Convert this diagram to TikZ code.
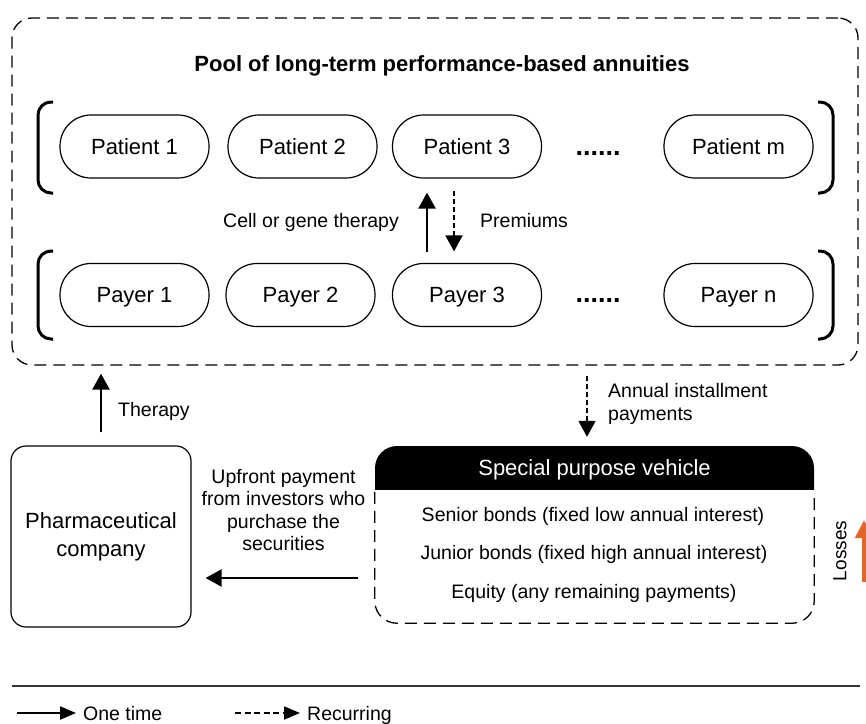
\documentclass[tikz,border=0pt]{standalone}
\usepackage{fontspec}
\setmainfont{Liberation Sans}
\usetikzlibrary{arrows.meta}
\definecolor{lossorange}{RGB}{226,101,44}
\begin{document}
\begin{tikzpicture}[x=1pt,y=-1pt,
  every node/.style={inner sep=0pt},
  big/.style={font=\fontsize{22}{26}\selectfont},
  small/.style={font=\fontsize{19.5}{23}\selectfont},
  pill/.style={draw, line width=1.2pt, rounded corners=31pt, minimum width=149pt,
    minimum height=63pt, big, text height=15.8pt, text depth=0pt},
  dotsnode/.style={font=\bfseries\fontsize{27}{30}\selectfont},
  poolbox/.style={draw, dash pattern=on 12pt off 7pt, line width=1.3pt,
    rounded corners=20pt, minimum width=846pt, minimum height=347pt},
  pharmabox/.style={draw, line width=1.2pt, rounded corners=15pt, minimum width=180pt,
    minimum height=181pt, align=center, font=\fontsize{22}{28}\selectfont},
  spvdash/.style={draw, dash pattern=on 12pt off 7pt, line width=1.3pt, rounded corners=22pt},
  onetime/.style={line width=2.5pt, -{Triangle[length=16pt,width=17pt]}},
  recurring/.style={line width=1.8pt, dash pattern=on 5pt off 3pt, -{Triangle[length=16pt,width=17pt]}},
  legone/.style={line width=2.2pt, -{Triangle[length=16pt,width=13pt]}},
  legrec/.style={line width=1.8pt, dash pattern=on 6pt off 3.5pt, -{Triangle[length=16pt,width=13pt]}},
  lossarrow/.style={line width=5pt, draw=lossorange, -{Triangle[length=18pt,width=17pt]}},
  bracket/.style={line width=3pt, rounded corners=13pt},
  legtext/.style={font=\fontsize{19.5}{23}\selectfont, text height=14pt, text depth=0pt}
]
\useasboundingbox (0,0) rectangle (866,723);
\clip (0,0) rectangle (866,723);

% pool
\node[poolbox] (pool) at (435,191.5) {};
\node[font=\bfseries\fontsize{22}{26}\selectfont, anchor=base] (title) at (442,71)
  {Pool of long-term performance-based annuities};

% brackets
\draw[bracket] (53,102) -- (38,102) -- (38,193) -- (53,193);
\draw[bracket] (818,102) -- (833,102) -- (833,193) -- (818,193);
\draw[bracket] (53,251) -- (38,251) -- (38,339) -- (53,339);
\draw[bracket] (818,251) -- (833,251) -- (833,339) -- (818,339);

% patients
\node[pill] (p1) at (134.5,146.5) {Patient 1};
\node[pill] (p2) at (302.5,146.5) {Patient 2};
\node[pill] (p3) at (467,146.5) {Patient 3};
\node[dotsnode, anchor=base] (pdots) at (598,155) {......};
\node[pill] (pm) at (738.5,146.5) {Patient m};

% payers
\node[pill] (y1) at (134.5,295) {Payer 1};
\node[pill] (y2) at (300.5,295) {Payer 2};
\node[pill] (y3) at (467,295) {Payer 3};
\node[dotsnode, anchor=base] (ydots) at (598,302) {......};
\node[pill] (yn) at (738.5,295) {Payer n};

% arrows between patient 3 and payer 3
\draw[onetime, shorten <=11pt, shorten >=14pt] ([xshift=-40pt]y3.north) -- ([xshift=-40pt]p3.south);
\draw[recurring, shorten <=12pt, shorten >=11.5pt] ([xshift=-13pt]p3.south) -- ([xshift=-13pt]y3.north);
\node[small, anchor=base east] (cgt) at (399,227) {Cell or gene therapy};
\node[small, anchor=base west] (prem) at (480,227) {Premiums};

% pharmaceutical company
\node[pharmabox] (pharma) at (101,536.5) {Pharmaceutical\\company};
\draw[onetime, shorten <=13pt, shorten >=8pt] (pharma.north) -- (pharma.north |- pool.south);
\node[small, anchor=base west] (ther) at (118,416) {Therapy};

% special purpose vehicle
\begin{scope}
  \clip (370,440) rectangle (820,489);
  \fill[rounded corners=22pt] (375,446) rectangle (814,530);
\end{scope}
\node[font=\fontsize{22}{26}\selectfont, text=white, minimum width=439pt, minimum height=43pt,
  text height=15.8pt, text depth=0pt] (spvhead) at (594.5,467.5) {Special purpose vehicle};
\node[minimum width=439pt, minimum height=131pt] (spvbody) at (594.5,557.5) {};
\draw[spvdash] (spvbody.north west) -- (spvbody.south west) -- (spvbody.south east) -- (spvbody.north east);
\node[small, anchor=base] (senior) at (593,521) {Senior bonds (fixed low annual interest)};
\node[small, anchor=base] (junior) at (594,559) {Junior bonds (fixed high annual interest)};
\node[small, anchor=base] (equity) at (594,598) {Equity (any remaining payments)};

% annual installment payments
\path (spvhead.north) ++(-7.5,0) coordinate (spvin);
\draw[recurring, shorten <=10pt, shorten >=9pt] (spvin |- pool.south) -- (spvin);
\node[small, align=left, anchor=north west] (annual) at (608,383) {Annual installment\\payments};

% upfront payment
\path ([yshift=-20.5pt]spvbody.west) coordinate (upA);
\draw[onetime, shorten <=17pt, shorten >=14pt] (upA) -- (upA -| pharma.east);
\node[align=center, anchor=north, font=\fontsize{19.5}{22.5}\selectfont] (upfront) at (283.5,469)
  {Upfront payment\\from investors who\\purchase the\\securities};

% losses
\node[font=\fontsize{19}{22}\selectfont, rotate=90] (losses) at (840,551) {Losses};
\coordinate (lossA) at (864,582);
\coordinate (lossB) at (864,520);
\draw[lossarrow] (lossA) -- (lossB);

% legend
\coordinate (legL) at (12,686);
\coordinate (legR) at (860,686);
\draw[line width=1.2pt, draw=black!80] (legL) -- (legR);
\node[legtext, anchor=base west] (ot) at (83,720) {One time};
\coordinate (otA) at (17,713);
\draw[legone, shorten >=7pt] (otA) -- (ot.west);
\node[legtext, anchor=base west] (rc) at (307,720) {Recurring};
\coordinate (rcA) at (235,713);
\draw[legrec, shorten >=7pt] (rcA) -- (rc.west);
\end{tikzpicture}
\end{document}
